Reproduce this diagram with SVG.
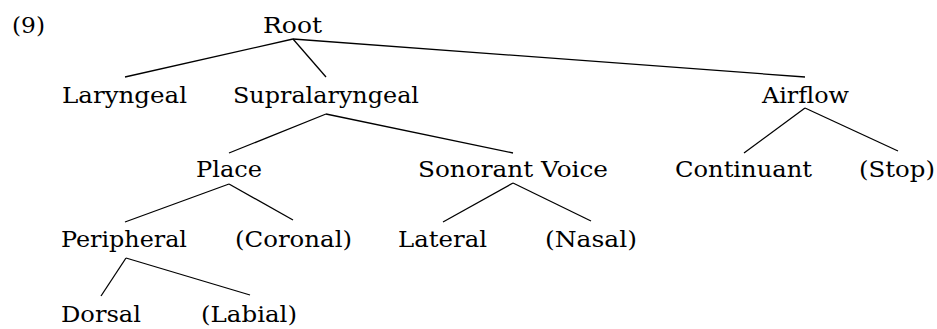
<svg xmlns="http://www.w3.org/2000/svg" width="937" height="329" viewBox="0 0 937 329">
<style>
text{font-family:'DejaVu Serif','Liberation Serif',serif;font-size:23px;fill:#000}
.e line{stroke:#000;stroke-width:1.3}
</style>
<rect width="937" height="329" fill="#fff"/>
<g class="e" id="connectors">
<line x1="293" y1="39" x2="125" y2="77"/>
<line x1="293" y1="39" x2="326" y2="77"/>
<line x1="293" y1="39" x2="805" y2="77"/>
<line x1="326" y1="114" x2="229" y2="153"/>
<line x1="326" y1="114" x2="513" y2="153"/>
<line x1="805" y1="108" x2="744" y2="153"/>
<line x1="805" y1="108" x2="898" y2="151"/>
<line x1="229" y1="184" x2="125" y2="222"/>
<line x1="229" y1="184" x2="293" y2="220"/>
<line x1="513" y1="183" x2="443" y2="222"/>
<line x1="513" y1="183" x2="591" y2="221"/>
<line x1="126" y1="258" x2="101" y2="296"/>
<line x1="126" y1="258" x2="250" y2="295"/>
</g>
<g id="label9"><text x="12" y="33" textLength="33" lengthAdjust="spacingAndGlyphs">(9)</text></g>
<g id="root"><text x="263" y="33" textLength="59" lengthAdjust="spacingAndGlyphs">Root</text></g>
<g id="laryngeal"><text x="62" y="103" textLength="125" lengthAdjust="spacingAndGlyphs">Laryngeal</text></g>
<g id="supralaryngeal"><text x="233" y="103" textLength="186" lengthAdjust="spacingAndGlyphs">Supralaryngeal</text></g>
<g id="airflow"><text x="762" y="103" textLength="87" lengthAdjust="spacingAndGlyphs">Airflow</text></g>
<g id="place"><text x="196" y="177" textLength="66" lengthAdjust="spacingAndGlyphs">Place</text></g>
<g id="sonorant-voice"><text x="418" y="177" textLength="190" lengthAdjust="spacingAndGlyphs">Sonorant Voice</text></g>
<g id="continuant"><text x="675" y="177" textLength="137" lengthAdjust="spacingAndGlyphs">Continuant</text></g>
<g id="stop"><text x="859" y="177" textLength="76" lengthAdjust="spacingAndGlyphs">(Stop)</text></g>
<g id="peripheral"><text x="61" y="247" textLength="126" lengthAdjust="spacingAndGlyphs">Peripheral</text></g>
<g id="coronal"><text x="235" y="247" textLength="117" lengthAdjust="spacingAndGlyphs">(Coronal)</text></g>
<g id="lateral"><text x="398" y="247" textLength="89" lengthAdjust="spacingAndGlyphs">Lateral</text></g>
<g id="nasal"><text x="545" y="247" textLength="92" lengthAdjust="spacingAndGlyphs">(Nasal)</text></g>
<g id="dorsal"><text x="61" y="322" textLength="80" lengthAdjust="spacingAndGlyphs">Dorsal</text></g>
<g id="labial"><text x="201" y="322" textLength="96" lengthAdjust="spacingAndGlyphs">(Labial)</text></g>
</svg>
